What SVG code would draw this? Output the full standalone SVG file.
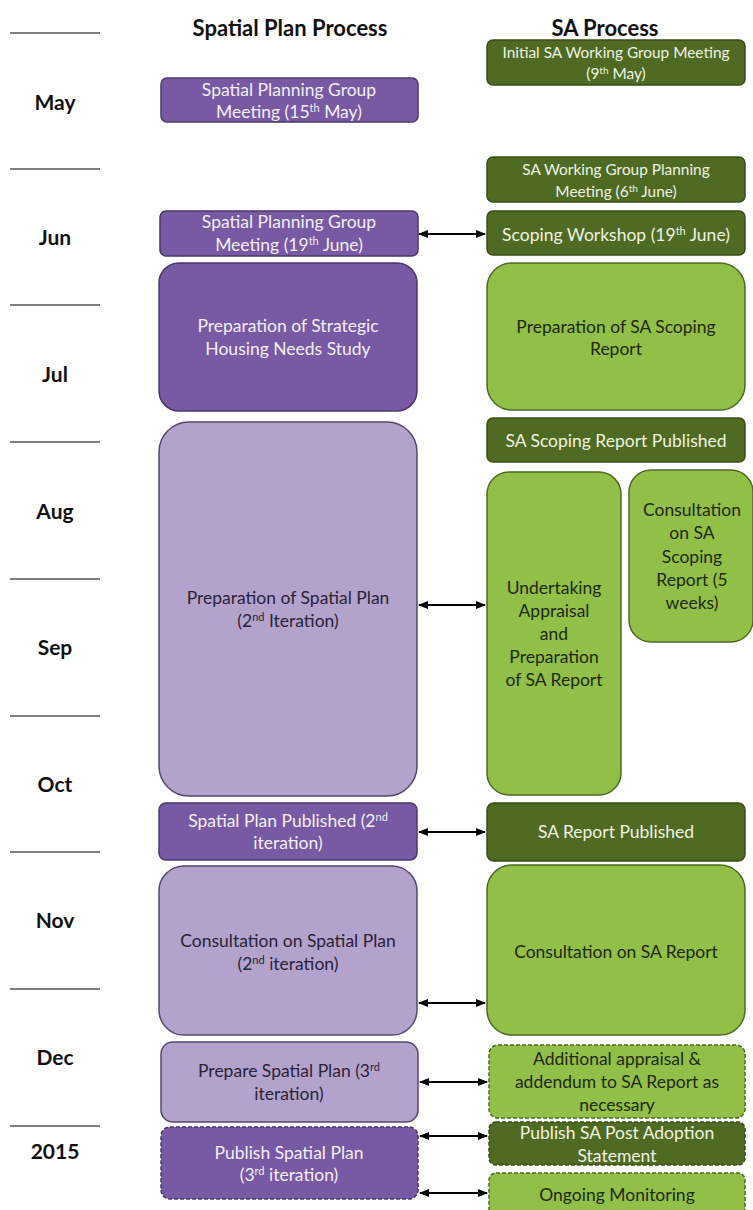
<svg xmlns="http://www.w3.org/2000/svg" width="753" height="1210" viewBox="0 0 753 1210">
<defs>
<marker id="ah" viewBox="0 0 10 10" refX="9" refY="5" markerWidth="5.5" markerHeight="5" orient="auto-start-reverse" markerUnits="strokeWidth">
<path d="M0,1 L10,5 L0,9 z" fill="#000"/>
</marker>
<style>
text{font-family:Lato,"Open Sans","Liberation Sans",sans-serif;text-anchor:middle}
.hdr{font-size:22px;font-weight:bold;fill:#111}
.mon{font-size:21px;font-weight:bold;fill:#111}
.tick{stroke:#555;stroke-width:1.6}
.dp{fill:#7859a4;stroke:#4a3868;stroke-width:1.5}
.lp{fill:#b3a2cc;stroke:#55486e;stroke-width:1.5}
.dg{fill:#4f6a22;stroke:#3a4e17;stroke-width:1.5}
.lg{fill:#92bf47;stroke:#4f6a22;stroke-width:1.5}
.dash{stroke-dasharray:4 2}
.wt{font-size:17.5px;fill:#f2eff7}
.dk{font-size:17.5px;fill:#2a2338}
.gk{font-size:17.5px;fill:#1e2a0c}
.gw{font-size:17.5px;fill:#eef3e2}
.gws{font-size:15.4px;fill:#eef3e2}
.sup{font-size:11px}
.sups{font-size:10px}
.conn line{stroke:#000;stroke-width:2;marker-start:url(#ah);marker-end:url(#ah)}
</style>
</defs>
<rect width="753" height="1210" fill="#fff"/>

<g id="timeline">
<line class="tick" x1="10" y1="33" x2="100" y2="33"/>
<line class="tick" x1="10" y1="169" x2="100" y2="169"/>
<line class="tick" x1="10" y1="305" x2="100" y2="305"/>
<line class="tick" x1="10" y1="442" x2="100" y2="442"/>
<line class="tick" x1="10" y1="579" x2="100" y2="579"/>
<line class="tick" x1="10" y1="716" x2="100" y2="716"/>
<line class="tick" x1="10" y1="852" x2="100" y2="852"/>
<line class="tick" x1="10" y1="989" x2="100" y2="989"/>
<line class="tick" x1="10" y1="1126" x2="100" y2="1126"/>
<text class="mon" x="55" y="110">May</text>
<text class="mon" x="55" y="245">Jun</text>
<text class="mon" x="55" y="382">Jul</text>
<text class="mon" x="55" y="519">Aug</text>
<text class="mon" x="55" y="655">Sep</text>
<text class="mon" x="55" y="792">Oct</text>
<text class="mon" x="55" y="928">Nov</text>
<text class="mon" x="55" y="1065">Dec</text>
<text class="mon" x="55" y="1159">2015</text>
</g>

<g id="headers">
<text class="hdr" x="290" y="36">Spatial Plan Process</text>
<text class="hdr" x="605" y="36">SA Process</text>
</g>

<g id="sp-meeting-may">
<rect class="dp" x="161" y="78" width="257" height="44" rx="6"/>
<text class="wt" x="289" y="96">Spatial Planning Group</text>
<text class="wt" x="289" y="118">Meeting (15<tspan class="sup" dy="-6">th</tspan><tspan dy="6"> May)</tspan></text>
</g>

<g id="sp-meeting-june">
<rect class="dp" x="160" y="211" width="258" height="45" rx="6"/>
<text class="wt" x="289" y="228">Spatial Planning Group</text>
<text class="wt" x="289" y="251">Meeting (19<tspan class="sup" dy="-6">th</tspan><tspan dy="6"> June)</tspan></text>
</g>

<g id="housing-study">
<rect class="dp" x="159" y="263" width="258" height="148" rx="20"/>
<text class="wt" x="288" y="332">Preparation of Strategic</text>
<text class="wt" x="288" y="355">Housing Needs Study</text>
</g>

<g id="prep-spatial-plan">
<rect class="lp" x="159" y="422" width="258" height="374" rx="30"/>
<text class="dk" x="288" y="604">Preparation of Spatial Plan</text>
<text class="dk" x="288" y="627">(2<tspan class="sup" dy="-6">nd</tspan><tspan dy="6"> Iteration)</tspan></text>
</g>

<g id="sp-published">
<rect class="dp" x="159" y="803" width="258" height="57" rx="7"/>
<text class="wt" x="288" y="827">Spatial Plan Published (2<tspan class="sup" dy="-6">nd</tspan></text>
<text class="wt" x="288" y="849">iteration)</text>
</g>

<g id="consult-spatial-plan">
<rect class="lp" x="159" y="866" width="258" height="169" rx="25"/>
<text class="dk" x="288" y="947">Consultation on Spatial Plan</text>
<text class="dk" x="288" y="970">(2<tspan class="sup" dy="-6">nd</tspan><tspan dy="6"> iteration)</tspan></text>
</g>

<g id="prepare-3rd">
<rect class="lp" x="161" y="1042" width="257" height="80" rx="12"/>
<text class="dk" x="289" y="1077">Prepare Spatial Plan (3<tspan class="sup" dy="-6">rd</tspan></text>
<text class="dk" x="289" y="1100">iteration)</text>
</g>

<g id="publish-3rd">
<rect x="161" y="1127" width="257" height="72" rx="9" fill="#7859a4" stroke="#fff" stroke-width="1.5"/>
<rect class="dp dash" x="161" y="1127" width="257" height="72" rx="9"/>
<text class="wt" x="289" y="1159">Publish Spatial Plan</text>
<text class="wt" x="289" y="1181">(3<tspan class="sup" dy="-6">rd</tspan><tspan dy="6"> iteration)</tspan></text>
</g>

<g id="sa-initial-meeting">
<rect class="dg" x="487" y="40" width="258" height="45" rx="6"/>
<text class="gws" x="616" y="58">Initial SA Working Group Meeting</text>
<text class="gws" x="616" y="79">(9<tspan class="sups" dy="-5">th</tspan><tspan dy="5"> May)</tspan></text>
</g>

<g id="sa-planning-meeting">
<rect class="dg" x="487" y="157" width="258" height="45" rx="6"/>
<text class="gws" x="616" y="175">SA Working Group Planning</text>
<text class="gws" x="616" y="197">Meeting (6<tspan class="sups" dy="-5">th</tspan><tspan dy="5"> June)</tspan></text>
</g>

<g id="scoping-workshop">
<rect class="dg" x="487" y="211" width="258" height="44" rx="6"/>
<text class="gw" x="616" y="241">Scoping Workshop (19<tspan class="sup" dy="-6">th</tspan><tspan dy="6"> June)</tspan></text>
</g>

<g id="prep-scoping-report">
<rect class="lg" x="487" y="263" width="258" height="147" rx="25"/>
<text class="gk" x="616" y="333">Preparation of SA Scoping</text>
<text class="gk" x="616" y="355">Report</text>
</g>

<g id="scoping-published">
<rect class="dg" x="487" y="418" width="258" height="44" rx="6"/>
<text class="gw" x="616" y="447">SA Scoping Report Published</text>
</g>

<g id="undertaking-appraisal">
<rect class="lg" x="487" y="472" width="134" height="323" rx="22"/>
<text class="gk" x="554" y="594">Undertaking</text>
<text class="gk" x="554" y="617">Appraisal</text>
<text class="gk" x="554" y="640">and</text>
<text class="gk" x="554" y="663">Preparation</text>
<text class="gk" x="554" y="686">of SA Report</text>
</g>

<g id="consult-scoping">
<rect class="lg" x="629" y="470" width="124" height="172" rx="22"/>
<text class="gk" x="692" y="516">Consultation</text>
<text class="gk" x="692" y="539">on SA</text>
<text class="gk" x="692" y="563">Scoping</text>
<text class="gk" x="692" y="586">Report  (5</text>
<text class="gk" x="692" y="609">weeks)</text>
</g>

<g id="sa-report-published">
<rect class="dg" x="487" y="803" width="258" height="58" rx="7"/>
<text class="gw" x="616" y="838">SA Report Published</text>
</g>

<g id="consult-sa-report">
<rect class="lg" x="487" y="865" width="258" height="170" rx="25"/>
<text class="gk" x="616" y="958">Consultation on SA Report</text>
</g>

<g id="additional-appraisal">
<rect x="489" y="1045" width="256" height="73" rx="9" fill="#92bf47" stroke="#fff" stroke-width="1.5"/>
<rect class="lg dash" x="489" y="1045" width="256" height="73" rx="9"/>
<text class="gk" x="617" y="1065">Additional appraisal &amp;</text>
<text class="gk" x="617" y="1088">addendum to SA Report as</text>
<text class="gk" x="617" y="1111">necessary</text>
</g>

<g id="post-adoption">
<rect x="489" y="1122" width="256" height="43" rx="7" fill="#4f6a22" stroke="#fff" stroke-width="1.5"/>
<rect class="dg dash" x="489" y="1122" width="256" height="43" rx="7"/>
<text class="gw" x="617" y="1139">Publish SA Post Adoption</text>
<text class="gw" x="617" y="1162">Statement</text>
</g>

<g id="ongoing-monitoring">
<rect x="489" y="1173" width="256" height="50" rx="7" fill="#92bf47" stroke="#fff" stroke-width="1.5"/>
<rect class="lg dash" x="489" y="1173" width="256" height="50" rx="7"/>
<text class="gk" x="617" y="1201">Ongoing Monitoring</text>
</g>

<g id="connectors" class="conn">
<line x1="419" y1="234" x2="485" y2="234"/>
<line x1="419" y1="605" x2="485" y2="605"/>
<line x1="419" y1="832" x2="485" y2="832"/>
<line x1="419" y1="1003" x2="485" y2="1003"/>
<line x1="420" y1="1082" x2="487" y2="1082"/>
<line x1="420" y1="1136" x2="487" y2="1136"/>
<line x1="420" y1="1193" x2="487" y2="1193"/>
</g>
</svg>
